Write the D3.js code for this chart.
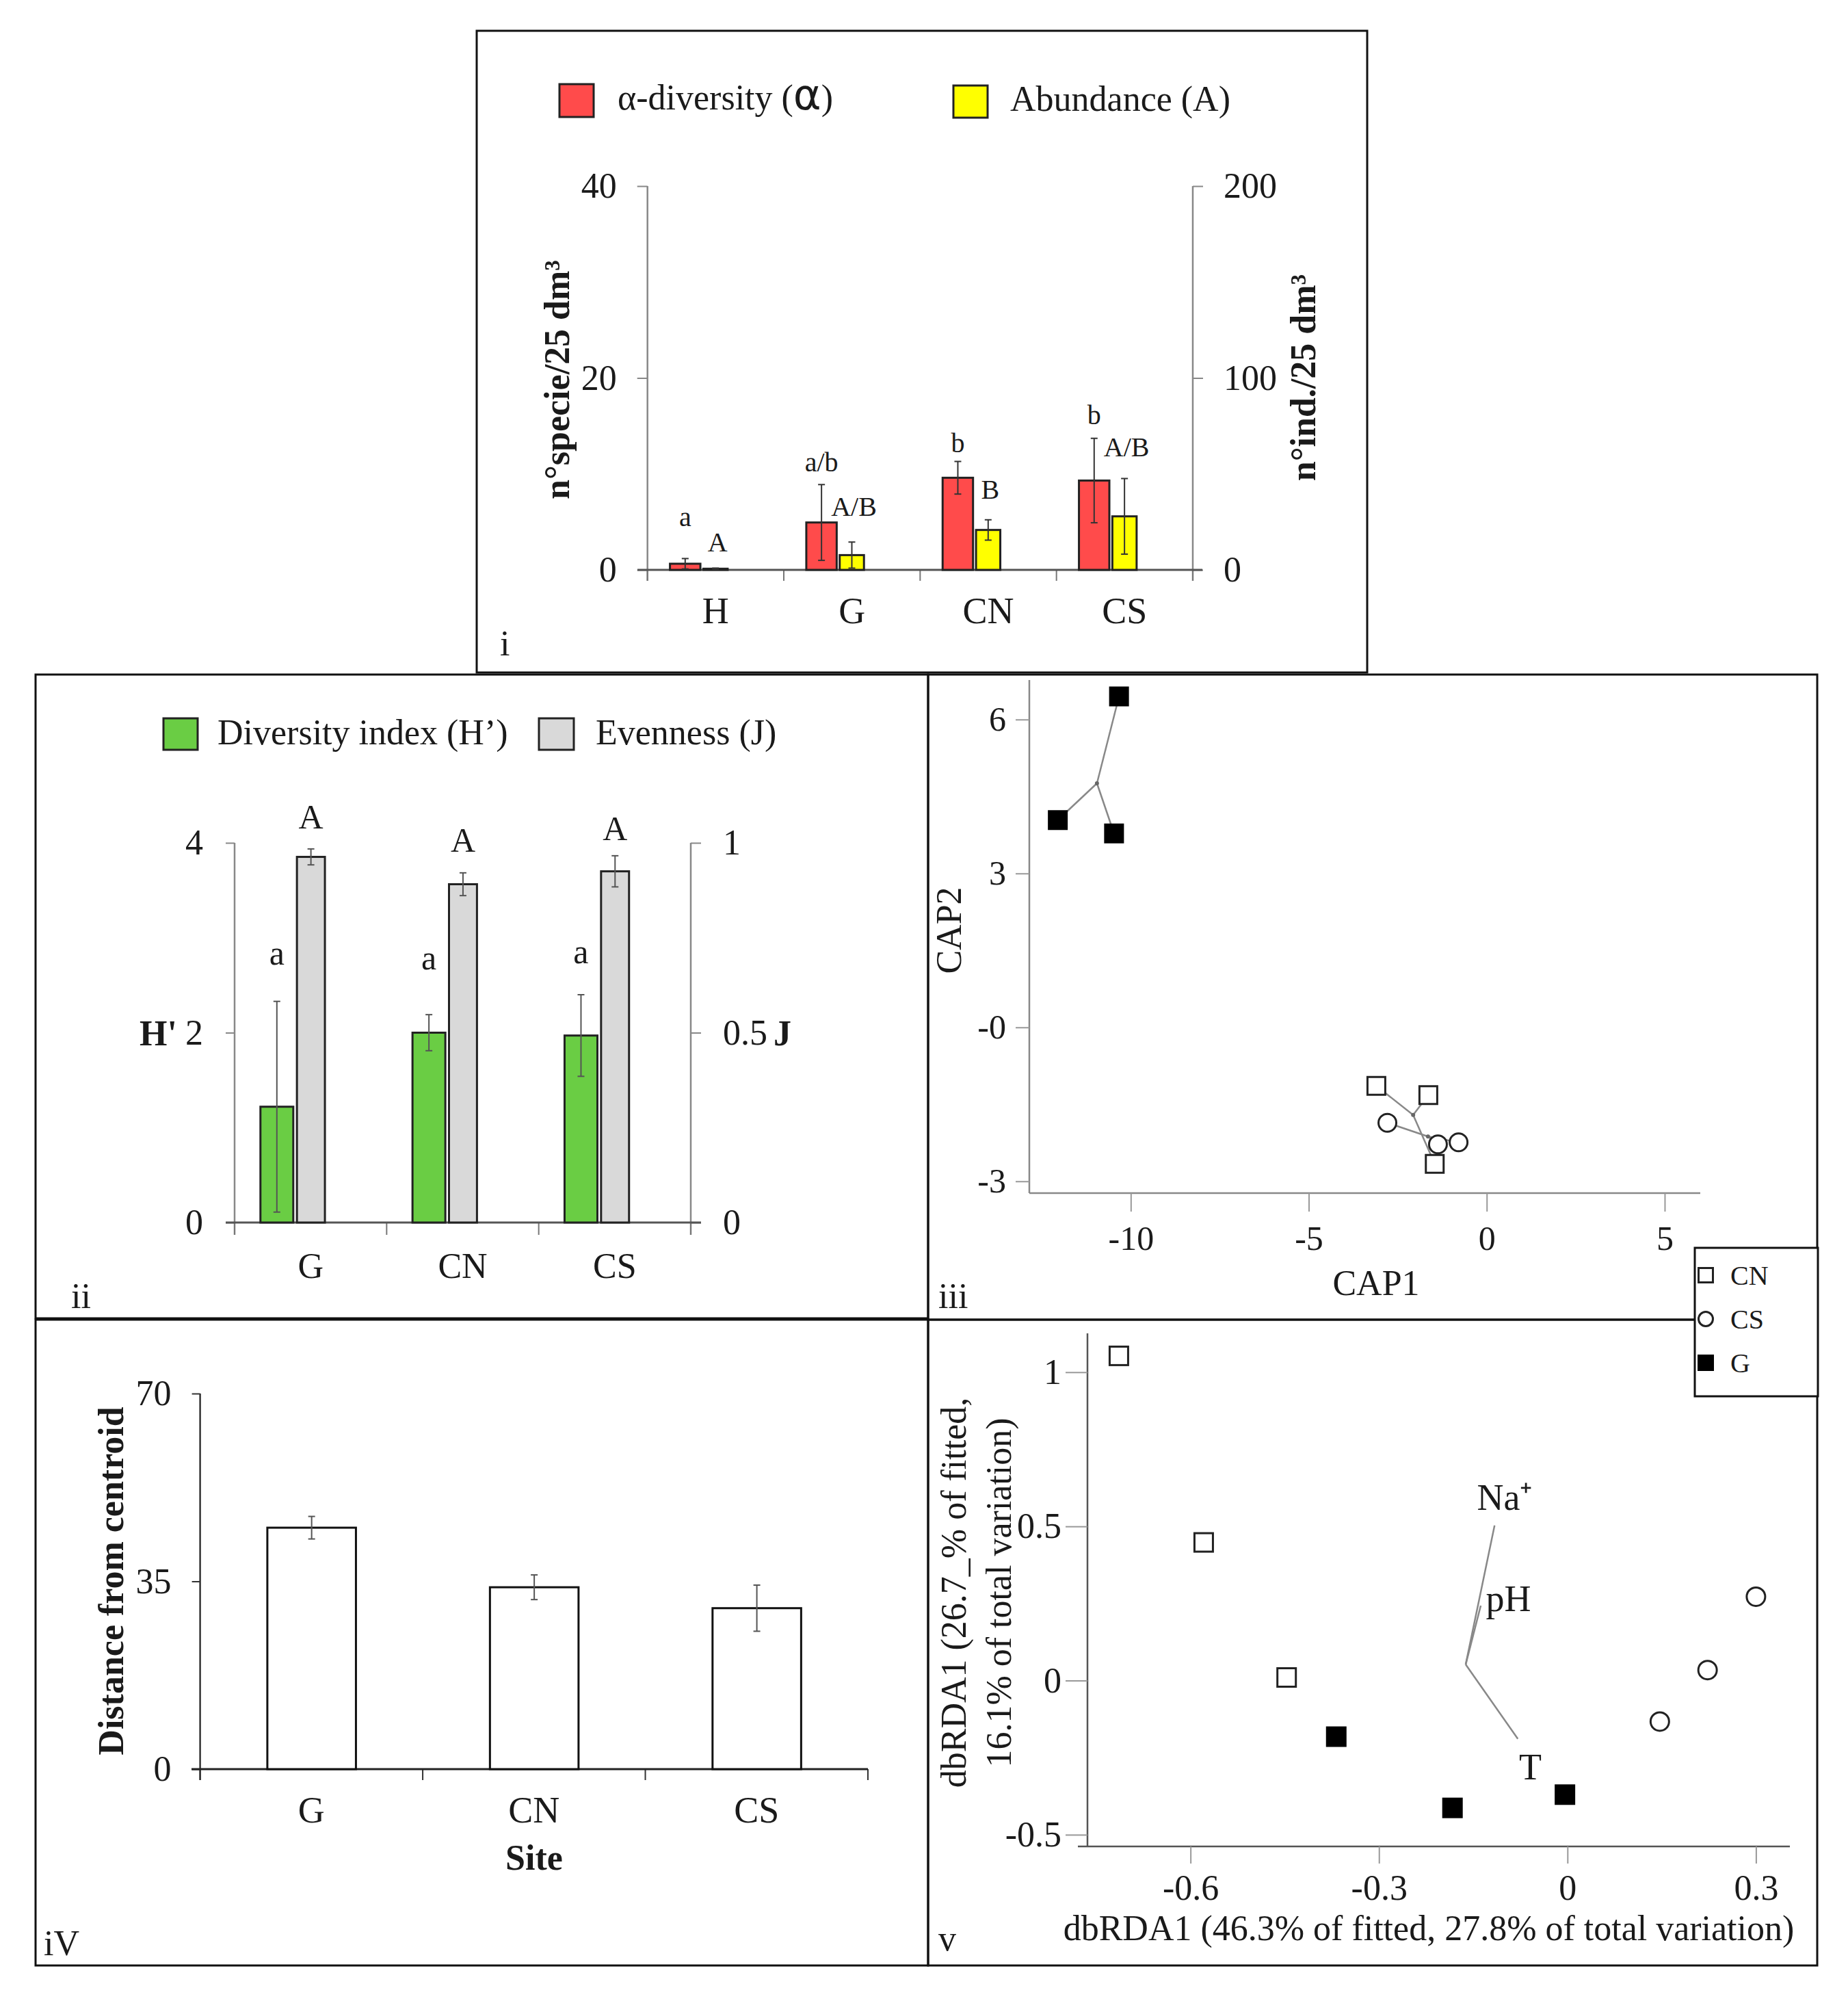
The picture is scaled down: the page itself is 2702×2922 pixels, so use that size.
<!DOCTYPE html>
<html><head><meta charset="utf-8">
<script src="https://cdn.jsdelivr.net/npm/d3@7"></script>
<style>
body{margin:0;background:#fff}
svg{display:block}
text{font-family:"Liberation Serif","Times New Roman",serif;fill:#1a1a1a}
</style></head>
<body>
<script>
// ---------------- DATA ----------------
// Panel i
const sitesI = ["H","G","CN","CS"];
const alphaMean = [0.64, 4.94, 9.6, 9.31];
const alphaErr  = [0.54, 3.95, 1.7, 4.4];
const abundMean = [0.6, 7.7, 20.8, 27.9];
const abundErr  = [0.3, 6.8, 5.3, 19.7];
const alphaLetters = ["a","a/b","b","b"];
const alphaLetterAt = [4.56, 10.26, 12.28, 15.2];
const abundLetters = ["A","A/B","B","A/B"];
const abundLetterAt = [9.5, 28.3, 37.2, 59.2];
const ticksIL = [0,20,40];
const ticksIR = [0,100,200];
// Panel ii
const sitesII = ["G","CN","CS"];
const hMean = [1.22, 2.0, 1.97];
const hErr  = [1.11, 0.19, 0.43];
const jMean = [0.963, 0.891, 0.925];
const jErr  = [0.021, 0.03, 0.041];
const hLetters = ["a","a","a"];
const hLetterAt = [2.72, 2.67, 2.73];
const jLetters = ["A","A","A"];
const jLetterAt = [1.038, 0.977, 1.007];
const ticksIIL = [0,2,4];
const ticksIIR = [0,0.5,1];
// Panel iii (CAP)
const capCN = [[-3.10,-1.14],[-1.64,-1.32],[-1.46,-2.66]];
const capCS = [[-2.79,-1.86],[-1.37,-2.28],[-0.79,-2.24]];
const capG  = [[-10.33,6.45],[-12.05,4.04],[-10.47,3.78]];
const ticksIIIx = [-10,-5,0,5];
const ticksIIIy = [-3,0,3,6];
// Panel iv
const sitesIV = ["G","CN","CS"];
const distMean = [45.0, 33.9, 30.0];
const distErr  = [2.1, 2.3, 4.3];
const ticksIV = [0,35,70];
// Panel v (dbRDA)
const dbCN = [[-0.714,1.053],[-0.579,0.448],[-0.447,0.01]];
const dbG  = [[-0.368,-0.182],[-0.183,-0.413],[-0.004,-0.370]];
const dbCS = [[0.147,-0.133],[0.223,0.034],[0.300,0.272]];
const envNames = ["Na⁺","pH","T"];
const envX = [-0.116,-0.138,-0.079];
const envY = [0.503,0.243,-0.189];
const envOrigin = [-0.162,0.052];
const envLabelX = [-0.100,-0.094,-0.059];
const envLabelY = [0.554,0.226,-0.320];
const ticksVx = [-0.6,-0.3,0,0.3];
const ticksVy = [-0.5,0,0.5,1];
const legendGroups = ["CN","CS","G"];

// ---------------- DRAW ----------------
const W=2702,H=2922;
const svg=d3.select("body").append("svg").attr("width",W).attr("height",H).attr("viewBox",`0 0 ${W} ${H}`);
svg.append("rect").attr("width",W).attr("height",H).attr("fill","#fff");

const FS=52;
const fmtPlain=d=>String(d);
function styleAxis(g, color, fs){
  g.select(".domain").remove();
  g.selectAll(".tick line").attr("stroke",color).attr("stroke-width",2);
  g.selectAll(".tick text").attr("font-size",fs||FS).attr("fill","#1a1a1a")
    .attr("font-family",'"Liberation Serif","Times New Roman",serif');
}
function vline(g,x,y0,y1,c,w){g.append("line").attr("x1",x).attr("x2",x).attr("y1",y0).attr("y2",y1).attr("stroke",c).attr("stroke-width",w);}
function hline(g,y,x0,x1,c,w){g.append("line").attr("x1",x0).attr("x2",x1).attr("y1",y).attr("y2",y).attr("stroke",c).attr("stroke-width",w);}
function errBar(g,x,yTop,yBot,c){
  vline(g,x,yTop,yBot,c,2);
  hline(g,yTop,x-5,x+5,c,2);
  hline(g,yBot,x-5,x+5,c,2);
}

// panel frames
const frames=[[697,45,1302,938],[52,986,1305,941],[1357,986,1300,943],[52,1929,1305,944],[1357,1929,1300,944]];
svg.append("g").selectAll("rect").data(frames).join("rect")
  .attr("x",d=>d[0]).attr("y",d=>d[1]).attr("width",d=>d[2]).attr("height",d=>d[3])
  .attr("fill","none").attr("stroke","#111").attr("stroke-width",3);

// ===== Panel i =====
{
  const g=svg.append("g");
  const x=d3.scaleBand().domain(sitesI).range([946.7,1744]);
  const yL=d3.scaleLinear().domain([0,40]).range([833,272]);
  const yR=d3.scaleLinear().domain([0,200]).range([833,272]);
  const bw=x.bandwidth();
  vline(g,946.7,272,849,"#888",2.5);
  vline(g,1744,272,849,"#888",2.5);
  const ax=g.append("g").attr("transform","translate(946.7,0)").call(d3.axisLeft(yL).tickValues(ticksIL).tickSize(15).tickPadding(30).tickSizeOuter(0).tickFormat(fmtPlain));
  styleAxis(ax,"#888");
  const axr=g.append("g").attr("transform","translate(1744,0)").call(d3.axisRight(yR).tickValues(ticksIR).tickSize(15).tickPadding(30).tickSizeOuter(0).tickFormat(fmtPlain));
  styleAxis(axr,"#888");
  const bounds=sitesI.map(d=>x(d)).concat([x.range()[1]]);
  bounds.forEach(b=>vline(g,b,833,849,"#777",2));
  const axb=g.append("g").attr("transform","translate(0,833)").call(d3.axisBottom(x).tickSize(0).tickPadding(40));
  styleAxis(axb,"#777",54);
  hline(g,833,932,1758,"#555",3);
  sitesI.forEach((s,i)=>{
    const x0=x(s);
    const r0=x0+0.165*bw, r1=x0+0.388*bw, y0=x0+0.41*bw, y1=x0+0.588*bw;
    g.append("rect").attr("x",r0).attr("y",yL(alphaMean[i])).attr("width",r1-r0).attr("height",yL(0)-yL(alphaMean[i]))
      .attr("fill","#ff4b4b").attr("stroke","#222").attr("stroke-width",3);
    g.append("rect").attr("x",y0).attr("y",yR(abundMean[i])).attr("width",y1-y0).attr("height",Math.max(yR(0)-yR(abundMean[i]),0.5))
      .attr("fill","#ffff00").attr("stroke","#222").attr("stroke-width",3);
    errBar(g,(r0+r1)/2,yL(alphaMean[i]+alphaErr[i]),yL(Math.max(alphaMean[i]-alphaErr[i],0)),"#333");
    errBar(g,(y0+y1)/2,yR(abundMean[i]+abundErr[i]),yR(Math.max(abundMean[i]-abundErr[i],0)),"#333");
    g.append("text").attr("x",(r0+r1)/2).attr("y",yL(alphaLetterAt[i])).attr("text-anchor","middle").attr("font-size",40).text(alphaLetters[i]);
    g.append("text").attr("x",(y0+y1)/2+3).attr("y",yR(abundLetterAt[i])).attr("text-anchor","middle").attr("font-size",40).text(abundLetters[i]);
  });
  g.append("text").attr("transform","translate(832,555) rotate(-90)").attr("text-anchor","middle").attr("font-size",52).attr("font-weight","bold").text("n°specie/25 dm³");
  g.append("text").attr("transform","translate(1923,552) rotate(-90)").attr("text-anchor","middle").attr("font-size",52).attr("font-weight","bold").text("n°ind./25 dm³");
  g.append("rect").attr("x",818).attr("y",123).attr("width",50).attr("height",48).attr("fill","#ff4b4b").attr("stroke","#222").attr("stroke-width",3);
  const t1=g.append("text").attr("x",903).attr("y",160).attr("font-size",52);
  t1.append("tspan").text("α-diversity (");
  t1.append("tspan").attr("font-size",62).attr("font-family","DejaVu Sans, sans-serif").text("α");
  t1.append("tspan").text(")");
  g.append("rect").attr("x",1394).attr("y",125).attr("width",50).attr("height",47).attr("fill","#ffff00").attr("stroke","#222").attr("stroke-width",3);
  g.append("text").attr("x",1477).attr("y",162).attr("font-size",52).text("Abundance (A)");
  g.append("text").attr("x",731).attr("y",958).attr("font-size",52).text("i");
}

// ===== Panel ii =====
{
  const g=svg.append("g");
  const x=d3.scaleBand().domain(sitesII).range([343,1010]);
  const yH=d3.scaleLinear().domain([0,4]).range([1787,1232]);
  const yJ=d3.scaleLinear().domain([0,1]).range([1787,1232]);
  const bw=x.bandwidth();
  vline(g,343,1232,1805,"#888",2.5);
  vline(g,1010,1232,1805,"#888",2.5);
  const ax=g.append("g").attr("transform","translate(343,0)").call(d3.axisLeft(yH).tickValues(ticksIIL).tickSize(13).tickPadding(33).tickSizeOuter(0).tickFormat(fmtPlain));
  styleAxis(ax,"#888");
  const axr=g.append("g").attr("transform","translate(1010,0)").call(d3.axisRight(yJ).tickValues(ticksIIR).tickSize(15).tickPadding(32).tickSizeOuter(0).tickFormat(fmtPlain));
  styleAxis(axr,"#888");
  const bounds=sitesII.map(d=>x(d)).concat([x.range()[1]]);
  bounds.forEach(b=>vline(g,b,1787,1805,"#777",2));
  const axb=g.append("g").attr("transform","translate(0,1787)").call(d3.axisBottom(x).tickSize(0).tickPadding(44));
  styleAxis(axb,"#777",52);
  hline(g,1787,330,1025,"#555",3);
  sitesII.forEach((s,i)=>{
    const x0=x(s);
    const a0=x0+0.17*bw, a1=x0+0.386*bw, b0=x0+0.41*bw, b1=x0+0.594*bw;
    g.append("rect").attr("x",a0).attr("y",yH(hMean[i])).attr("width",a1-a0).attr("height",yH(0)-yH(hMean[i]))
      .attr("fill","#6acd44").attr("stroke","#222").attr("stroke-width",3);
    g.append("rect").attr("x",b0).attr("y",yJ(jMean[i])).attr("width",b1-b0).attr("height",yJ(0)-yJ(jMean[i]))
      .attr("fill","#d9d9d9").attr("stroke","#222").attr("stroke-width",3);
    errBar(g,(a0+a1)/2,yH(hMean[i]+hErr[i]),yH(hMean[i]-hErr[i]),"#555");
    errBar(g,(b0+b1)/2,yJ(jMean[i]+jErr[i]),yJ(jMean[i]-jErr[i]),"#555");
    g.append("text").attr("x",(a0+a1)/2).attr("y",yH(hLetterAt[i])).attr("text-anchor","middle").attr("font-size",50).text(hLetters[i]);
    g.append("text").attr("x",(b0+b1)/2).attr("y",yJ(jLetterAt[i])).attr("text-anchor","middle").attr("font-size",50).text(jLetters[i]);
  });
  g.append("text").attr("x",259).attr("y",yH(2)).attr("dy","0.35em").attr("text-anchor","end").attr("font-size",52).attr("font-weight","bold").text("H'");
  g.append("text").attr("x",1131).attr("y",yJ(0.5)).attr("dy","0.35em").attr("font-size",52).attr("font-weight","bold").text("J");
  g.append("rect").attr("x",239).attr("y",1050).attr("width",50).attr("height",46).attr("fill","#6acd44").attr("stroke","#222").attr("stroke-width",3);
  g.append("text").attr("x",318).attr("y",1088).attr("font-size",52).text("Diversity index (H’)");
  g.append("rect").attr("x",788).attr("y",1050).attr("width",51).attr("height",46).attr("fill","#d9d9d9").attr("stroke","#222").attr("stroke-width",3);
  g.append("text").attr("x",871).attr("y",1088).attr("font-size",52).text("Evenness (J)");
  g.append("text").attr("x",104).attr("y",1912).attr("font-size",52).text("ii");
}

function marker(g,type,cx,cy,s){
  if(type==="circle"){
    g.append("circle").attr("cx",cx).attr("cy",cy).attr("r",s/2).attr("fill","#fff").attr("stroke","#222").attr("stroke-width",3);
  } else {
    g.append("rect").attr("x",cx-s/2).attr("y",cy-s/2).attr("width",s).attr("height",s)
      .attr("fill",type==="filled"?"#000":"#fff").attr("stroke",type==="filled"?"#000":"#222").attr("stroke-width",3);
  }
}

// ===== Panel iii =====
{
  const g=svg.append("g");
  const x=d3.scaleLinear().domain([-12.85,6.0]).range([1505,2486]);
  const y=d3.scaleLinear().domain([-3.23,6.77]).range([1744,994]);
  vline(g,1505,994,1744,"#888",2.5);
  hline(g,1744,1505,2486,"#888",2.5);
  const fmt=d=>d===0?"-0":String(d);
  const ax=g.append("g").attr("transform","translate(1505,0)").call(d3.axisLeft(y).tickValues(ticksIIIy).tickSize(20).tickPadding(14).tickFormat(fmt).tickSizeOuter(0));
  styleAxis(ax,"#999",50);
  const axb=g.append("g").attr("transform","translate(0,1744)").call(d3.axisBottom(x).tickValues(ticksIIIx).tickSize(27).tickPadding(20).tickFormat(fmtPlain).tickSizeOuter(0));
  styleAxis(axb,"#999",50);
  g.append("text").attr("x",2012).attr("y",1893).attr("text-anchor","middle").attr("font-size",52).text("CAP1");
  g.append("text").attr("transform","translate(1405,1360) rotate(-90)").attr("text-anchor","middle").attr("font-size",52).text("CAP2");
  const groups=[[capG,"filled"],[capCN,"open"],[capCS,"circle"]];
  groups.forEach(([pts])=>{
    const cx=d3.mean(pts,d=>d[0]), cy=d3.mean(pts,d=>d[1]);
    pts.forEach(p=>g.append("line").attr("x1",x(cx)).attr("y1",y(cy)).attr("x2",x(p[0])).attr("y2",y(p[1])).attr("stroke","#888").attr("stroke-width",2.5));
    g.append("circle").attr("cx",x(cx)).attr("cy",y(cy)).attr("r",3).attr("fill","#666");
  });
  groups.forEach(([pts,type])=>pts.forEach(p=>marker(g,type,x(p[0]),y(p[1]),26)));
  g.append("text").attr("x",1372).attr("y",1912).attr("font-size",52).text("iii");
}

// ===== Panel iv =====
{
  const g=svg.append("g");
  const x=d3.scaleBand().domain(sitesIV).range([292.6,1269]);
  const y=d3.scaleLinear().domain([0,70]).range([2586,2037]);
  const bw=x.bandwidth();
  vline(g,292.6,2037,2602,"#333",2.5);
  const ax=g.append("g").attr("transform","translate(292.6,0)").call(d3.axisLeft(y).tickValues(ticksIV).tickSize(12).tickPadding(30).tickSizeOuter(0).tickFormat(fmtPlain));
  styleAxis(ax,"#333");
  const bounds=sitesIV.map(d=>x(d)).concat([x.range()[1]]);
  bounds.forEach(b=>vline(g,b,2586,2602,"#333",2));
  hline(g,2586,280,1269,"#222",3);
  const axb=g.append("g").attr("transform","translate(0,2586)").call(d3.axisBottom(x).tickSize(0).tickPadding(40));
  styleAxis(axb,"#333",54);
  sitesIV.forEach((s,i)=>{
    const x0=x(s)+0.302*bw, x1=x(s)+0.7*bw;
    g.append("rect").attr("x",x0).attr("y",y(distMean[i])).attr("width",x1-x0).attr("height",y(0)-y(distMean[i]))
      .attr("fill","#fff").attr("stroke","#111").attr("stroke-width",3);
    errBar(g,(x0+x1)/2,y(distMean[i]+distErr[i]),y(distMean[i]-distErr[i]),"#555");
  });
  g.append("text").attr("x",781).attr("y",2733).attr("text-anchor","middle").attr("font-size",52).attr("font-weight","bold").text("Site");
  g.append("text").attr("transform","translate(180,2311) rotate(-90)").attr("text-anchor","middle").attr("font-size",52).attr("font-weight","bold").text("Distance from centroid");
  g.append("text").attr("x",64).attr("y",2858).attr("font-size",52).text("iV");
}

// ===== Panel v =====
{
  const g=svg.append("g");
  const x=d3.scaleLinear().domain([-0.764,0.354]).range([1590,2617]);
  const y=d3.scaleLinear().domain([-0.538,1.126]).range([2699,1949]);
  vline(g,1590,1949,2699,"#555",2.5);
  hline(g,2699,1576,2617,"#555",2.5);
  const ax=g.append("g").attr("transform","translate(1590,0)").call(d3.axisLeft(y).tickValues(ticksVy).tickSize(32).tickPadding(6).tickFormat(fmtPlain).tickSizeOuter(0));
  styleAxis(ax,"#999",52);
  const axb=g.append("g").attr("transform","translate(0,2699)").call(d3.axisBottom(x).tickValues(ticksVx).tickSize(25).tickPadding(16).tickFormat(fmtPlain).tickSizeOuter(0));
  styleAxis(axb,"#999",52);
  envNames.forEach((n,i)=>{
    g.append("line").attr("x1",x(envOrigin[0])).attr("y1",y(envOrigin[1])).attr("x2",x(envX[i])).attr("y2",y(envY[i]))
      .attr("stroke","#888").attr("stroke-width",2.5);
    g.append("text").attr("x",x(envLabelX[i])).attr("y",y(envLabelY[i])).attr("text-anchor","middle").attr("font-size",54).text(n);
  });
  dbCN.forEach(p=>marker(g,"open",x(p[0]),y(p[1]),27));
  dbG.forEach(p=>marker(g,"filled",x(p[0]),y(p[1]),27));
  dbCS.forEach(p=>marker(g,"circle",x(p[0]),y(p[1]),27));
  g.append("text").attr("x",2089).attr("y",2836).attr("text-anchor","middle").attr("font-size",52).text("dbRDA1 (46.3% of fitted, 27.8% of total variation)");
  g.append("text").attr("transform","translate(1412,2328) rotate(-90)").attr("text-anchor","middle").attr("font-size",52).text("dbRDA1 (26.7_% of fitted,");
  g.append("text").attr("transform","translate(1478,2328) rotate(-90)").attr("text-anchor","middle").attr("font-size",52).text("16.1% of total variation)");
  g.append("text").attr("x",1372).attr("y",2851).attr("font-size",52).text("v");
}

// ===== shared legend =====
{
  const g=svg.append("g");
  g.append("rect").attr("x",2478).attr("y",1824).attr("width",180).attr("height",217).attr("fill","#fff").attr("stroke","#111").attr("stroke-width",3);
  const types={CN:"open",CS:"circle",G:"filled"};
  const ly=d3.scalePoint().domain(legendGroups).range([1864,1992]);
  legendGroups.forEach(k=>{
    marker(g,types[k],2494,ly(k),21);
    g.append("text").attr("x",2530).attr("y",ly(k)).attr("dy","0.35em").attr("font-size",40).text(k);
  });
}
</script>
</body></html>
